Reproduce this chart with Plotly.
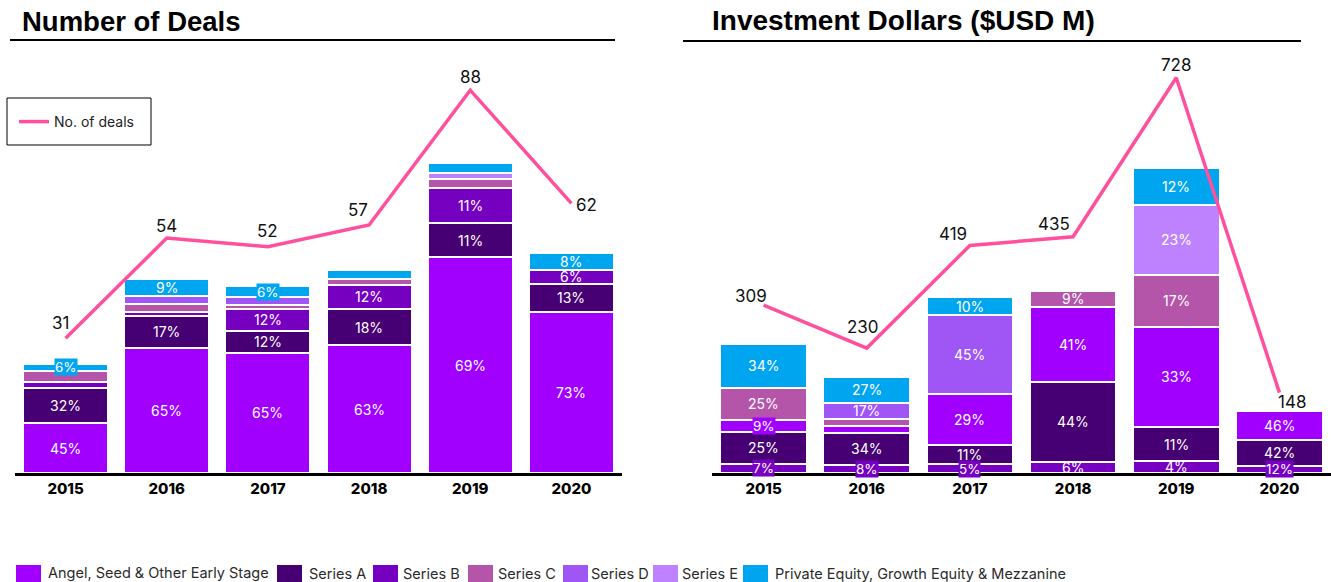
import plotly.graph_objects as go

# ---------------- data ----------------
years = ["2015", "2016", "2017", "2018", "2019", "2020"]

# Number of deals (line) and stage share of deals (%) per year
deal_totals = [31, 54, 52, 57, 88, 62]
deals_angel = [45, 65, 65, 63, 69, 73]
deals_series_a = [32, 17, 12, 18, 11, 13]
deals_series_b = [6, 2, 12, 12, 11, 6]
deals_series_c = [10, 4, 2, 3, 3, 0]
deals_series_d = [0, 4, 4, 0, 0, 0]
deals_series_e = [0, 0, 0, 0, 2, 0]
deals_pe = [6, 9, 6, 4, 3, 8]

# Investment dollars ($USD M, line) and stage share of dollars (%) per year
inv_totals = [309, 230, 419, 435, 728, 148]
inv_series_b = [7, 8, 5, 6, 4, 12]
inv_series_a = [25, 34, 11, 44, 11, 42]
inv_angel = [9, 7, 29, 41, 33, 46]
inv_series_c = [25, 7, 0, 9, 17, 0]
inv_series_d = [0, 17, 45, 0, 0, 0]
inv_series_e = [0, 0, 0, 0, 23, 0]
inv_pe = [34, 27, 10, 0, 12, 0]

stage_names = ["Angel, Seed & Other Early Stage", "Series A", "Series B", "Series C",
               "Series D", "Series E", "Private Equity, Growth Equity & Mezzanine"]

# ---------------- style ----------------
W, H = 1331, 582
COLORS = {
    "Angel, Seed & Other Early Stage": "#A100FF",
    "Series A": "#460073",
    "Series B": "#7500C0",
    "Series C": "#B455AA",
    "Series D": "#A055F5",
    "Series E": "#BE82FF",
    "Private Equity, Growth Equity & Mezzanine": "#00A5EF",
}
PINK = "#FF509E"
FONT = "Inter"

BASE_PX = 473   # baseline pixel row
TOP_PX = 40     # top of plot area
def py(p):
    return 1 - p / H

y_dom = [py(BASE_PX), py(TOP_PX)]
plot_h = BASE_PX - TOP_PX

# labels hidden for thin slivers, labels drawn on a colored box where they overflow
PE = "Private Equity, Growth Equity & Mezzanine"
ANGEL = "Angel, Seed & Other Early Stage"
deals_hidden = {("2015", "Series B"), ("2015", "Series C"), ("2016", "Series B"), ("2016", "Series C"),
                ("2016", "Series D"), ("2017", "Series C"), ("2017", "Series D"), ("2018", "Series C"),
                ("2018", PE), ("2019", "Series C"), ("2019", "Series E"), ("2019", PE)}
deals_boxed = {("2015", PE), ("2017", PE)}
inv_hidden = {("2016", "Series C"), ("2016", ANGEL)}
inv_boxed = {("2015", ANGEL), ("2015", "Series B"), ("2016", "Series B"),
             ("2017", "Series B"), ("2020", "Series B")}

# line value label offsets (px)
deal_label_shift = [(-5, 15), (0, 12), (0, 16), (-11, 15), (0, 13), (15, -2)]
inv_label_shift = [(-13, 9), (-4, 21), (-17, 11), (-19, 13), (0, 13), (13, -9)]

# legend swatch left edges and label left edges (px)
legend_x_px = [16, 277, 373, 468, 563, 653, 743]
legend_text_px = [46, 307, 401, 496, 589, 680, 773]

fig = go.Figure()
annotations = []

def add_stack(series, totals, xa, ya, hidden, boxed):
    base = [0.0] * len(years)
    for name, pcts in series:
        vals = [t * p / 100 if p else None for t, p in zip(totals, pcts)]
        fig.add_trace(go.Bar(
            x=years, y=vals, name=name, xaxis=xa, yaxis=ya,
            marker=dict(color=COLORS[name], line=dict(color="white", width=2)),
            showlegend=False,
            hovertemplate=name + "<br>%{x}: %{customdata}%<extra></extra>",
            customdata=pcts,
        ))
        for i, (yr, v, p) in enumerate(zip(years, vals, pcts)):
            if v is None:
                continue
            if (yr, name) not in hidden:
                ann = dict(x=i, y=base[i] + v / 2, xref=xa, yref=ya, text=f"{p}%",
                           showarrow=False, font=dict(family=FONT, size=14, color="white"),
                           xanchor="center", yanchor="middle")
                if (yr, name) in boxed:
                    ann.update(bgcolor=COLORS[name], borderpad=0,
                               font=dict(family=FONT, size=13.5, color="white"))
                annotations.append(ann)
            base[i] += v

deal_series = list(zip(stage_names, [deals_angel, deals_series_a, deals_series_b, deals_series_c,
                                     deals_series_d, deals_series_e, deals_pe]))
add_stack(deal_series, deal_totals, "x", "y", deals_hidden, deals_boxed)

inv_series = [("Series B", inv_series_b), ("Series A", inv_series_a),
              (ANGEL, inv_angel), ("Series C", inv_series_c),
              ("Series D", inv_series_d), ("Series E", inv_series_e),
              (PE, inv_pe)]
add_stack(inv_series, inv_totals, "x2", "y3", inv_hidden, inv_boxed)

fig.add_trace(go.Scatter(x=years, y=deal_totals, mode="lines", name="No. of deals",
                         line=dict(color=PINK, width=3.5), xaxis="x", yaxis="y2",
                         showlegend=True))
fig.add_trace(go.Scatter(x=years, y=inv_totals, mode="lines", name="Investment ($USD M)",
                         line=dict(color=PINK, width=3.5), xaxis="x2", yaxis="y4",
                         showlegend=False))

for i, (v, (dx, dy)) in enumerate(zip(deal_totals, deal_label_shift)):
    annotations.append(dict(x=i, y=v, xref="x", yref="y2", text=str(v), showarrow=False,
                            xshift=dx, yshift=dy, font=dict(family=FONT, size=17, color="#111")))
for i, (v, (dx, dy)) in enumerate(zip(inv_totals, inv_label_shift)):
    annotations.append(dict(x=i, y=v, xref="x2", yref="y4", text=str(v), showarrow=False,
                            xshift=dx, yshift=dy, font=dict(family=FONT, size=17, color="#111")))

# titles
TITLE_FONT = dict(family="Liberation Sans", size=27.5, color="black")
annotations.append(dict(x=20 / W, y=py(22), xref="paper", yref="paper", text="<b>Number of Deals</b>",
                        showarrow=False, xanchor="left", yanchor="middle", font=TITLE_FONT))
annotations.append(dict(x=710 / W, y=py(21), xref="paper", yref="paper",
                        text="<b>Investment Dollars ($USD M)</b>",
                        showarrow=False, xanchor="left", yanchor="middle",
                        font=dict(family="Liberation Sans", size=28, color="black")))

shapes = [
    dict(type="line", xref="paper", yref="paper", x0=10 / W, x1=615 / W, y0=py(40), y1=py(40),
         line=dict(color="black", width=2)),
    dict(type="line", xref="paper", yref="paper", x0=683 / W, x1=1301 / W, y0=py(41), y1=py(41),
         line=dict(color="black", width=2)),
    dict(type="rect", xref="paper", yref="paper", x0=7 / W, x1=151 / W, y0=py(145), y1=py(98),
         line=dict(color="black", width=1)),
]

# stage legend (swatch + label)
for name, x0, xt in zip(stage_names, legend_x_px, legend_text_px):
    shapes.append(dict(type="rect", xref="paper", yref="paper", x0=x0 / W, x1=(x0 + 25) / W,
                       y0=py(582), y1=py(565), line=dict(width=0), fillcolor=COLORS[name]))
    annotations.append(dict(x=xt / W, y=py(573), xref="paper", yref="paper", text=name,
                            showarrow=False, xanchor="left", yanchor="middle",
                            font=dict(family=FONT, size=14.5, color="#2b2b2b")))

xcommon = dict(type="category", range=[-0.5, 5.5], showline=True, linecolor="black", linewidth=3,
               ticks="", showgrid=False, zeroline=False, fixedrange=True,
               tickfont=dict(family=FONT, size=15, color="black", weight=800))
ycommon = dict(visible=False, showgrid=False, zeroline=False, fixedrange=True)

fig.update_layout(
    width=W, height=H, margin=dict(l=0, r=0, t=0, b=0),
    paper_bgcolor="white", plot_bgcolor="white",
    barmode="stack", bargap=0.16,
    xaxis=dict(domain=[15 / W, 622 / W], anchor="y", **xcommon),
    yaxis=dict(domain=y_dom, anchor="x", range=[0, plot_h / 3.553], **ycommon),
    yaxis2=dict(overlaying="y", anchor="x", range=[0, plot_h / 4.35], **ycommon),
    xaxis2=dict(domain=[712 / W, 1.0], anchor="y3", **xcommon),
    yaxis3=dict(domain=y_dom, anchor="x2", range=[0, plot_h / 0.419], **ycommon),
    yaxis4=dict(overlaying="y3", anchor="x2", range=[0, plot_h / 0.543], **ycommon),
    legend=dict(x=14 / W, xanchor="left", y=py(122), yanchor="middle",
                font=dict(family=FONT, size=14, color="#222"), bgcolor="rgba(0,0,0,0)",
                itemclick=False, itemdoubleclick=False),
    annotations=annotations,
    shapes=shapes,
    hovermode="closest",
)

fig.write_html("out.html", config={"displayModeBar": False},
               post_script="document.body.style.margin='0';")
